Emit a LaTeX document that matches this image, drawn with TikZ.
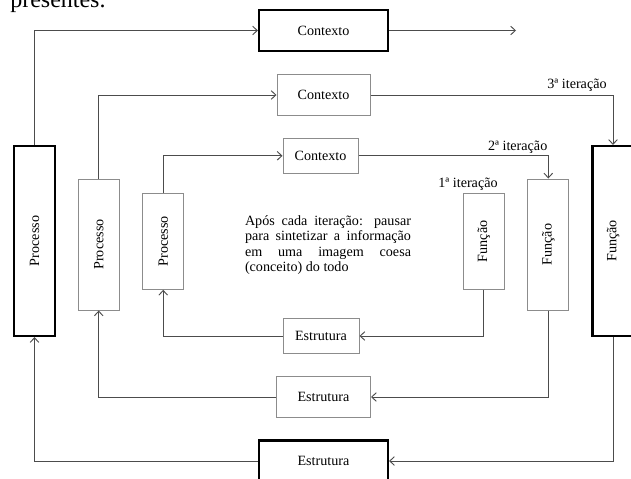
\documentclass[tikz,border=0pt]{standalone}
\usepackage{fontspec}
\setmainfont{Liberation Serif}
\usepackage{graphicx}
\usetikzlibrary{arrows.meta,positioning}

\begin{document}
\begin{tikzpicture}[x=0.75pt,y=-0.75pt]
\tikzset{box/.style={draw=black!45,line width=0.75pt,inner sep=0pt,
  font=\fontsize{10.6}{12}\selectfont}}
\tikzset{bigbox/.style={box,draw=black,line width=1.6pt}}
\tikzset{conn/.style={draw=black!70,line width=0.7pt,
  -{Straight Barb[length=3.5pt,width=6.5pt]}}}
\tikzset{lbl/.style={inner sep=0pt,font=\fontsize{10.6}{11.7}\selectfont}}
\useasboundingbox (0,0) rectangle (631,478);

\node[anchor=base west,inner sep=0pt,font=\fontsize{18}{20}\selectfont] (page) at (10,8) {presentes.};

% outer loop
\node[bigbox,minimum width=96.75pt,minimum height=30.75pt] (ctxO) at (323.5,30.5) {Contexto};
\node[bigbox,minimum width=30.75pt,minimum height=142.5pt] (procO) at (34.5,241) {\rotatebox{90}{Processo}};
\node[bigbox,minimum width=30.75pt,minimum height=142.5pt] (funO) at (613,241) {\rotatebox{90}{Função}};
\node[bigbox,minimum width=96.75pt,minimum height=30.75pt] (estO) at (323.5,461) {Estrutura};
\coordinate (outEnd) at (516,30.5);

% middle loop
\node[box,minimum width=69.75pt,minimum height=30.75pt] (ctxM) at (323.5,95) {Contexto};
\node[box,minimum width=30.75pt,minimum height=98.25pt] (procM) at (98.7,244.5) {\rotatebox{90}{Processo}};
\node[box,minimum width=30.75pt,minimum height=98.25pt] (funM) at (548.3,244.5) {\rotatebox{90}{Função}};
\node[box,minimum width=70.5pt,minimum height=30.75pt] (estM) at (323.5,397) {Estrutura};

% inner loop
\node[box,minimum width=56.25pt,minimum height=25.9pt] (ctxI) at (320.5,155.8) {Contexto};
\node[box,minimum width=30.75pt,minimum height=72pt] (procI) at (163.2,241.3) {\rotatebox{90}{Processo}};
\node[box,minimum width=30.75pt,minimum height=72pt] (funI) at (483.8,241.3) {\rotatebox{90}{Função}};
\node[box,minimum width=57pt,minimum height=26.25pt] (estI) at (321,336) {Estrutura};

\node[lbl,text width=124.5pt,align=justify] (note) at (328,245)
  {\hyphenpenalty=10000 Após cada iteração: pausar\linebreak para sintetizar a informação\linebreak
   em uma imagem coesa\linebreak (conceito) do todo};

\node[lbl] (it3) at (577,85) {3ª iteração};
\node[lbl] (it2) at (517.7,147) {2ª iteração};
\node[lbl] (it1) at (468,184) {1ª iteração};

\draw[conn] (procO.north) |- (ctxO.west);
\draw[conn] (ctxO.east) -- (outEnd);
\draw[conn] (funO.south) |- (estO.east);
\draw[conn] (estO.west) -| (procO.south);

\draw[conn] (procM.north) |- (ctxM.west);
\draw[conn] (ctxM.east) -| (funO.north);
\draw[conn] (funM.south) |- (estM.east);
\draw[conn] (estM.west) -| (procM.south);

\draw[conn] (procI.north) |- (ctxI.west);
\draw[conn] (ctxI.east) -| (funM.north);
\draw[conn] (funI.south) |- (estI.east);
\draw[conn] (estI.west) -| (procI.south);
\end{tikzpicture}
\end{document}
